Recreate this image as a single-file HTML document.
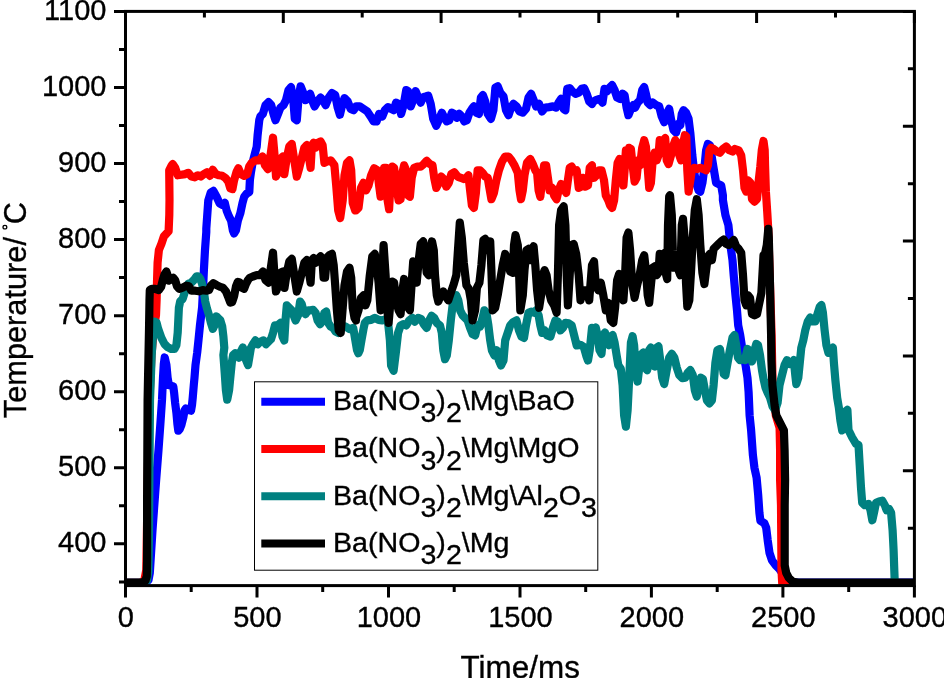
<!DOCTYPE html>
<html><head><meta charset="utf-8"><title>chart</title>
<style>html,body{margin:0;padding:0;background:#fff;}svg{display:block;}text{font-family:"Liberation Sans",sans-serif;fill:#000;stroke:#000;stroke-width:0.35px;}svg{will-change:transform;}</style>
</head><body>
<svg width="944" height="678" viewBox="0 0 944 678">
<rect x="0" y="0" width="944" height="678" fill="#fff"/>
<defs><clipPath id="pc"><rect x="125.5" y="11.4" width="788.9" height="575.7"/></clipPath></defs>
<g clip-path="url(#pc)" fill="none" stroke-linejoin="round" stroke-linecap="round" stroke-width="8.2">
<polyline stroke="#0000ff" points="125.5,582.8 145.5,582.8 148.5,580.0 149.8,573.0 150.3,565.0 152.5,530.0 156.0,482.0 158.5,450.0 160.3,425.0 162.0,400.0 163.0,377.6 163.8,364.0 164.7,357.5 166.4,365.0 167.6,377.6 168.9,385.1 171.4,385.8 173.3,386.4 174.1,392.7 175.1,402.7 176.4,412.7 177.4,424.0 178.3,430.7 179.8,429.0 181.4,425.0 183.3,417.6 184.5,410.5 185.8,408.5 188.9,410.0 191.0,410.7 192.0,405.0 192.7,398.0 193.8,385.0 194.5,377.6 195.5,365.0 197.2,352.5 198.5,340.0 200.0,325.0 202.1,307.6 203.0,290.0 203.9,270.0 205.0,250.0 206.3,232.0 206.3,228.5 208.3,200.4 210.8,192.4 213.3,190.9 216.6,196.7 219.6,203.4 222.3,204.9 224.8,202.9 226.6,210.4 229.1,216.7 231.1,220.5 232.9,230.5 234.1,233.5 235.9,230.5 237.9,220.5 240.3,213.3 242.5,203.0 244.2,196.7 246.5,193.8 249.3,192.0 249.9,180.0 251.0,172.0 252.5,163.3 254.0,157.0 256.7,146.7 257.6,135.2 259.3,120.0 260.4,116.4 262.9,113.9 265.5,105.1 268.5,102.1 271.2,105.1 273.5,113.9 275.5,120.2 278.0,113.9 280.5,107.6 283.5,105.1 286.0,100.1 288.5,90.1 291.0,87.1 293.1,97.6 294.8,118.9 296.8,120.2 298.6,97.6 300.6,86.3 303.1,92.6 305.6,100.1 308.1,96.4 310.1,93.8 312.6,101.4 314.6,106.4 317.6,101.4 320.6,97.6 323.6,101.4 325.6,105.1 328.7,97.6 331.9,93.1 335.2,95.1 337.7,107.6 339.9,114.7 342.2,105.1 344.5,98.1 347.7,101.4 350.7,108.9 353.7,110.2 356.0,106.4 356.0,106.4 359.8,106.4 363.5,108.9 367.3,111.4 370.6,116.4 373.6,121.4 376.6,121.4 379.1,113.9 382.3,116.4 384.8,110.2 388.1,107.1 391.1,108.9 393.6,110.2 396.1,102.6 398.6,103.9 401.1,113.9 403.6,105.1 406.2,90.1 408.2,91.3 410.7,106.4 413.2,100.1 415.7,91.3 418.2,97.6 420.7,102.6 423.2,97.1 425.7,96.4 428.2,95.6 430.7,103.9 433.2,118.9 436.3,125.7 439.3,118.9 441.8,112.7 444.3,117.7 446.8,121.4 449.3,120.2 451.8,112.7 454.3,113.9 456.8,117.7 459.3,113.9 461.8,116.4 464.3,121.4 466.9,120.2 469.4,112.7 471.9,108.9 473.9,106.4 476.4,112.7 478.9,113.9 480.9,97.6 482.9,95.1 485.2,101.4 487.7,113.9 490.9,118.9 493.4,110.2 495.4,87.6 497.7,86.3 500.2,92.6 503.5,96.4 506.0,110.2 508.5,115.2 511.0,107.6 513.5,103.9 516.5,106.4 519.5,111.4 522.8,112.7 526.0,108.9 528.5,97.6 531.1,93.8 533.6,100.1 536.1,106.4 539.1,103.9 542.1,111.4 545.4,107.6 549.1,107.1 552.9,106.4 556.1,107.6 558.6,102.6 561.1,98.9 563.7,108.9 565.4,110.2 567.2,88.8 569.7,88.1 572.2,91.3 575.5,93.8 578.7,92.6 581.7,88.8 584.2,88.1 586.7,93.8 589.2,101.4 592.0,103.9 592.0,102.6 595.8,100.1 599.5,98.9 602.5,102.6 604.5,88.8 607.0,91.3 609.6,87.6 612.1,85.1 614.6,90.1 617.1,97.6 620.1,98.9 622.6,93.8 624.6,95.1 626.6,107.6 628.4,115.2 630.9,108.9 633.4,105.1 635.1,107.6 637.6,102.6 640.1,100.1 642.2,90.1 644.2,87.1 645.9,93.8 647.7,102.6 650.2,105.1 652.7,102.6 656.0,105.1 659.2,106.4 661.7,116.4 664.2,122.2 666.7,113.9 669.2,108.9 671.2,120.2 673.5,130.2 676.0,132.7 678.5,123.9 680.3,125.2 681.8,113.9 683.5,110.2 686.0,112.7 688.6,118.9 690.3,132.7 692.3,155.3 694.3,172.8 696.1,182.9 698.6,190.4 700.3,191.6 702.4,182.9 704.4,167.8 706.1,150.3 707.9,144.0 709.9,145.2 711.9,157.8 714.4,172.8 716.1,182.9 718.6,184.1 721.2,185.4 722.9,195.4 722.9,200.0 725.4,215.0 728.4,225.1 730.4,245.1 732.5,260.2 733.7,275.2 735.5,295.3 737.0,310.3 738.2,325.4 740.2,335.0 742.8,352.0 745.5,365.0 747.5,378.0 748.6,392.0 749.6,415.3 751.1,430.0 752.9,455.1 754.4,467.6 756.6,477.6 758.2,495.2 759.4,512.7 760.4,520.8 764.4,523.3 766.2,527.8 767.7,540.3 769.5,552.9 772.0,560.4 775.7,565.4 779.5,569.2 783.2,574.2 788.3,580.4 793.3,582.5 944.0,582.5"/>
<polyline stroke="#ff0000" points="125.5,582.8 141.0,582.8 144.5,579.5 146.3,570.0 147.1,520.0 148.0,465.0 149.5,400.0 151.5,355.0 154.0,327.0 156.0,315.0 156.6,300.0 157.0,282.0 157.6,262.7 158.9,250.0 161.4,243.9 163.9,236.4 168.6,231.3 169.3,215.0 169.5,200.0 169.2,170.3 171.7,165.3 172.7,164.1 175.2,167.8 177.7,175.3 181.4,174.8 185.2,174.1 188.2,172.8 191.5,176.6 194.7,177.3 197.8,175.3 200.8,176.6 204.0,174.1 207.0,172.3 209.8,175.8 212.8,169.8 215.8,174.1 219.1,175.3 222.3,175.8 225.3,177.8 228.3,181.6 230.3,188.4 232.4,189.1 234.1,180.3 236.6,171.6 238.4,168.3 240.9,174.1 244.1,175.8 247.2,174.1 249.2,166.6 251.7,162.8 255.4,160.3 259.2,160.3 262.4,156.5 265.0,165.3 268.0,169.1 270.5,155.3 273.0,137.7 275.0,160.3 276.0,176.6 278.5,170.3 280.5,159.0 283.0,156.5 284.3,174.1 286.8,157.8 289.3,146.5 291.8,144.0 294.3,160.3 296.8,176.6 299.3,167.8 301.8,157.8 304.3,147.8 306.8,145.2 309.4,160.3 310.6,167.8 311.9,145.2 313.6,142.7 315.6,147.8 318.1,142.7 320.6,141.5 322.6,145.2 324.4,162.8 326.9,161.6 330.7,160.3 334.4,165.3 336.2,185.4 338.2,210.4 340.2,218.0 342.7,200.4 344.5,175.3 347.0,162.8 349.5,160.3 351.2,170.3 352.7,202.9 355.2,210.4 356.0,210.4 358.5,207.9 361.0,187.9 363.5,182.9 366.0,190.4 368.5,185.4 371.1,175.3 374.1,168.3 377.3,170.3 379.1,185.4 380.6,196.7 382.3,180.3 384.1,167.8 386.1,167.8 387.6,200.4 389.1,209.2 390.6,180.3 392.4,166.6 394.1,167.8 396.1,185.4 398.6,200.4 400.6,199.2 402.4,172.8 404.1,165.3 406.2,170.3 408.2,195.4 409.9,196.7 411.7,177.8 414.2,167.8 417.4,166.6 420.7,166.6 423.7,164.1 426.7,160.8 430.0,164.1 432.5,165.3 434.2,177.8 436.3,187.9 438.8,182.9 441.3,176.6 443.8,179.1 446.3,186.6 448.8,182.9 451.3,174.1 454.3,172.3 457.6,176.6 460.8,177.8 463.8,179.1 466.4,177.8 468.4,175.3 470.1,190.4 471.9,205.4 473.9,207.9 475.9,192.9 477.6,170.3 480.1,170.3 482.6,172.8 485.2,176.6 487.7,177.8 489.4,187.9 491.4,199.2 493.9,192.9 496.4,180.3 498.9,170.3 502.0,161.6 505.2,156.5 508.5,156.5 511.5,160.3 514.5,165.3 517.8,172.8 519.5,190.4 521.0,199.2 522.8,190.4 524.5,175.3 527.0,162.8 530.3,159.0 532.8,164.1 535.3,170.3 537.1,172.8 538.6,190.4 540.3,196.7 542.1,180.3 544.1,165.3 546.1,165.3 547.9,177.8 549.6,190.4 552.1,187.9 554.1,195.4 556.6,199.2 558.6,190.4 561.1,184.1 563.7,187.9 566.2,192.9 567.9,180.3 569.7,167.8 571.7,166.6 574.2,171.6 576.7,170.3 578.7,187.9 581.2,186.6 583.0,177.8 585.5,186.6 588.0,185.4 589.7,167.8 592.0,165.3 592.0,167.8 594.0,177.8 596.5,175.3 599.0,170.3 601.5,170.3 604.0,180.3 605.8,195.4 608.3,200.4 610.1,205.4 612.1,207.9 614.1,200.4 615.8,180.3 617.6,162.8 619.6,159.0 621.6,170.3 623.4,185.4 624.6,170.3 625.9,150.3 627.6,155.3 629.1,147.8 630.9,149.0 632.6,165.3 634.6,181.6 636.6,177.8 638.4,160.3 640.1,165.3 642.2,147.8 644.2,140.2 645.9,146.5 647.7,167.8 649.2,187.9 650.9,182.9 652.7,160.3 654.7,152.8 656.7,160.3 658.5,155.3 659.7,140.2 661.7,142.7 663.5,140.2 665.2,138.2 666.7,160.3 668.5,164.1 671.0,155.3 673.5,145.2 675.3,140.2 677.3,142.7 679.3,155.3 681.0,160.3 682.8,145.2 684.8,135.2 686.3,136.5 687.3,170.3 688.6,191.6 690.3,180.3 691.8,170.3 694.3,167.8 697.3,169.1 700.3,167.8 703.6,169.1 706.1,170.3 707.9,165.3 709.4,150.3 711.1,147.8 713.6,149.0 716.9,151.5 719.9,152.8 722.9,149.0 726.2,146.5 729.4,150.3 732.5,151.5 735.0,149.0 738.7,150.3 741.2,155.3 743.0,170.3 744.5,187.9 746.2,191.6 748.0,180.3 750.5,182.9 752.0,199.2 754.5,201.7 757.0,199.2 758.8,180.0 760.3,166.7 761.8,150.0 763.5,141.0 764.7,150.0 765.1,166.7 765.9,191.7 767.3,213.0 768.3,230.0 771.6,335.1 772.6,385.2 775.8,415.3 779.6,427.9 780.1,450.4 780.1,480.0 781.0,505.2 781.5,570.4 782.2,583.2 944.0,583.2"/>
<polyline stroke="#008080" points="125.5,582.8 143.0,582.8 147.0,580.5 148.3,572.0 148.9,540.0 149.5,465.0 150.0,400.0 151.7,355.0 153.2,332.0 154.3,321.5 156.6,322.7 158.2,328.9 161.3,337.7 164.5,344.0 167.6,347.1 171.4,349.0 174.5,349.0 176.4,345.2 177.7,332.7 178.3,320.2 178.9,307.6 180.2,301.4 182.7,298.8 183.9,295.1 185.8,288.8 188.3,283.8 191.4,282.5 193.9,280.0 196.5,276.3 198.3,276.3 200.2,278.8 202.1,283.8 204.0,292.6 205.2,301.4 207.1,308.9 209.0,315.1 210.9,322.7 212.8,328.9 214.6,325.2 216.5,316.4 218.4,318.3 220.3,320.2 222.2,326.4 223.4,336.5 224.3,347.7 223.4,355.1 224.7,372.6 225.9,390.2 227.2,399.6 229.1,390.2 230.3,377.6 231.8,362.6 233.1,355.1 235.3,353.2 237.2,353.8 239.1,357.6 241.0,351.3 242.8,347.5 244.7,351.3 246.0,360.1 248.0,365.1 249.2,358.0 250.9,347.9 252.9,344.2 255.4,340.4 257.9,344.2 260.4,341.7 263.5,340.4 266.0,344.2 268.5,341.7 271.0,339.2 273.0,332.9 275.0,325.4 277.5,325.4 280.5,322.9 282.5,336.6 284.3,340.4 285.5,320.4 286.8,305.3 289.3,307.8 291.8,310.3 293.6,315.3 295.6,320.4 298.1,315.3 300.1,301.6 301.8,304.1 303.6,311.6 305.6,314.1 308.1,310.3 310.6,310.3 313.1,309.8 315.6,312.8 317.6,320.4 320.1,324.1 322.6,320.4 324.4,312.8 326.2,311.6 328.2,322.9 330.7,326.6 333.2,327.9 335.7,331.6 338.2,332.9 342.0,325.4 345.7,326.6 349.5,329.1 353.2,327.9 354.3,334.0 355.3,340.0 357.0,350.0 358.3,353.3 359.8,350.0 361.5,340.0 363.5,329.0 364.8,322.9 367.3,320.4 371.1,319.9 374.8,317.9 378.6,319.9 382.3,320.4 386.1,319.1 388.1,322.9 389.9,340.4 391.1,365.5 393.6,370.7 396.1,350.4 398.1,332.9 400.6,325.4 403.6,324.1 406.2,325.4 409.2,320.4 412.4,317.9 414.9,321.6 418.2,317.9 421.2,319.1 423.7,324.1 426.7,327.9 429.2,320.4 431.7,315.8 434.2,317.9 436.8,322.9 440.0,325.4 441.8,332.9 443.3,350.4 445.0,359.2 446.8,355.5 448.8,340.4 450.8,320.4 452.6,305.3 454.3,296.5 456.3,295.3 458.3,300.3 460.1,310.3 462.6,315.3 465.1,317.9 467.6,320.4 470.1,327.9 472.6,334.1 475.1,335.4 477.6,325.4 480.1,326.6 482.6,317.9 484.4,310.3 486.4,312.8 488.4,325.4 490.2,340.4 491.9,350.4 494.4,355.5 496.9,350.4 498.9,360.5 501.0,365.5 503.5,360.5 505.2,340.4 507.7,332.9 510.2,325.4 512.8,322.4 516.5,320.4 519.0,330.4 521.5,336.6 524.0,337.9 526.0,325.4 528.5,312.8 531.1,311.6 534.1,312.8 536.1,310.3 538.6,315.3 540.3,325.4 542.1,332.9 544.6,330.4 547.1,335.4 550.4,336.6 552.9,327.9 555.4,320.4 557.9,321.6 560.4,330.4 562.9,327.9 565.4,322.9 568.7,323.4 571.7,325.4 574.2,335.4 576.7,345.4 580.5,344.9 583.7,346.7 586.2,355.5 588.0,360.5 589.7,350.4 592.0,327.9 592.0,332.6 594.0,330.1 595.8,327.6 597.5,335.1 599.5,350.1 601.5,353.9 603.3,335.1 605.0,332.6 607.0,342.6 609.0,345.1 610.8,336.3 612.6,335.1 614.6,342.6 616.6,355.1 618.3,365.2 620.8,368.9 622.6,385.2 624.1,415.3 625.9,426.6 627.6,410.3 629.1,380.2 630.9,342.6 632.6,336.3 634.1,345.1 635.9,372.7 637.6,381.5 639.6,365.2 641.7,353.9 643.4,352.6 645.2,367.7 647.2,370.2 649.2,350.1 650.9,347.6 652.7,365.2 654.7,366.4 656.7,347.6 658.5,346.4 660.2,360.1 662.2,377.7 664.2,384.0 666.7,370.2 669.2,357.6 671.8,353.9 674.3,357.6 676.8,367.7 679.3,375.2 682.3,378.2 685.3,377.7 687.8,372.7 690.3,370.2 692.8,375.2 694.8,390.2 696.8,396.5 698.8,385.2 700.9,377.7 702.9,378.9 704.9,390.2 706.9,400.3 709.4,403.3 711.9,400.3 713.6,385.2 715.4,362.6 717.4,350.1 719.9,348.9 721.9,360.1 723.7,373.9 725.4,375.2 727.4,363.9 729.9,350.1 732.5,337.6 734.5,335.1 736.2,345.1 738.0,357.6 740.0,360.1 742.5,358.9 745.0,360.1 747.5,348.9 749.5,351.4 752.0,361.4 754.5,350.1 756.3,343.9 758.0,345.1 760.0,355.1 762.0,370.2 763.8,380.2 765.5,387.7 767.6,392.7 770.1,397.8 772.6,406.5 775.1,410.3 777.6,402.8 779.5,385.3 782.0,375.3 784.5,365.2 787.0,360.2 789.5,364.0 792.0,362.7 793.8,360.2 795.3,375.3 796.3,384.1 798.3,377.8 799.8,362.7 801.3,347.7 803.3,340.2 805.3,330.1 807.8,321.4 810.3,317.6 812.8,321.4 815.3,321.4 817.1,315.1 819.6,307.1 821.4,305.1 822.9,312.6 824.6,330.1 826.4,345.2 828.4,352.7 830.9,350.2 832.9,347.7 833.9,362.7 835.4,380.3 837.2,397.9 838.9,407.9 840.4,420.4 842.2,430.4 843.9,422.5 845.9,411.2 847.4,409.9 848.5,430.0 852.2,437.5 856.0,443.8 858.5,445.0 859.7,465.1 861.0,487.7 862.2,502.7 864.8,505.2 868.5,504.0 870.5,510.2 872.3,520.3 874.0,512.7 876.0,502.7 879.0,501.5 882.3,500.7 884.8,505.2 886.6,510.2 889.1,509.0 891.1,512.7 892.6,530.3 893.6,550.4 894.3,570.4 894.8,583.5 898.6,583.5"/>
<polyline stroke="#000000" points="125.5,582.5 142.5,582.5 145.5,580.5 146.8,576.0 147.1,560.0 147.1,500.0 147.6,400.0 149.0,330.0 149.5,300.0 149.8,290.1 151.9,288.8 155.1,288.8 158.8,290.1 161.1,286.9 162.8,280.0 164.5,274.4 166.4,271.5 167.6,275.0 168.9,280.7 170.8,279.4 173.3,277.8 175.1,280.0 177.0,286.3 179.2,288.8 182.7,287.6 186.4,285.7 188.9,286.3 191.4,290.7 195.2,290.7 199.0,291.3 202.7,290.1 206.5,290.7 209.0,290.1 210.9,285.7 213.4,283.2 216.5,285.1 220.3,286.9 222.8,287.6 225.9,291.3 228.4,297.6 230.3,302.6 232.2,302.0 234.1,296.3 236.0,286.3 237.8,281.9 239.7,282.5 241.6,287.6 244.1,288.8 246.0,283.8 248.0,280.0 249.9,277.7 252.9,276.5 256.7,275.2 259.9,275.2 262.9,271.5 265.5,280.2 268.5,282.7 270.5,270.2 273.0,252.7 274.5,275.2 276.0,291.5 278.5,285.2 280.5,272.7 283.0,271.5 284.5,287.8 286.8,272.7 289.3,261.4 291.8,258.9 294.3,275.2 296.8,291.5 299.3,282.7 301.8,272.7 304.3,262.7 306.8,260.2 309.4,275.2 310.6,282.7 311.9,260.2 313.6,258.2 315.6,262.7 318.1,258.9 320.6,256.4 322.6,262.7 323.6,277.7 325.1,277.7 326.9,257.7 329.4,255.2 331.9,253.9 333.7,265.2 335.2,285.2 336.9,310.3 338.7,330.4 340.7,332.9 342.7,307.8 344.5,285.2 347.0,271.5 349.5,267.7 351.2,277.7 352.7,307.8 354.5,317.9 356.0,320.4 356.0,317.9 358.5,310.3 361.0,297.8 363.5,295.3 365.5,305.3 367.3,300.3 369.8,275.2 372.3,256.4 374.8,253.9 376.6,265.2 378.6,282.7 380.6,310.3 382.3,275.2 383.6,245.1 385.6,275.2 387.4,310.3 388.6,322.9 390.6,300.3 392.4,281.5 394.1,282.7 396.1,300.3 398.6,310.3 400.6,314.1 402.4,290.3 404.1,279.0 406.2,285.2 408.2,307.8 409.9,310.3 411.7,282.7 413.2,261.4 414.9,265.2 416.7,282.7 418.7,260.2 420.7,243.9 423.2,241.4 425.0,255.2 426.7,272.7 428.7,275.2 430.2,250.2 432.0,241.4 433.8,250.2 435.0,275.2 436.8,295.3 438.3,301.6 440.8,295.3 443.3,291.5 445.8,296.5 448.3,300.3 450.8,292.8 453.8,284.0 456.3,275.2 458.3,245.1 459.8,222.6 461.8,237.6 463.8,262.7 466.4,285.2 468.9,289.0 470.9,300.3 472.6,320.4 475.1,310.3 476.9,287.8 479.4,282.7 481.4,265.2 483.4,240.1 485.2,238.9 486.9,250.2 488.4,247.6 490.2,241.4 491.4,270.2 492.7,310.3 495.2,307.8 497.7,295.3 500.2,280.2 502.7,265.2 505.2,253.9 507.7,260.2 510.2,271.5 512.8,272.7 514.0,245.1 515.5,235.1 517.8,245.1 519.0,270.2 520.3,310.3 522.8,295.3 524.5,270.2 526.5,250.2 528.5,248.9 530.3,260.2 531.6,250.2 533.6,246.4 535.3,265.2 537.1,290.3 539.1,307.8 541.1,295.3 542.8,275.2 544.6,270.2 546.6,275.2 548.6,290.3 551.1,300.3 554.1,305.3 556.6,312.8 557.9,275.2 559.1,225.1 561.1,210.0 563.7,206.3 565.4,225.1 566.7,275.2 567.9,305.3 569.7,275.2 571.2,245.1 573.7,243.9 576.2,253.9 578.7,275.2 580.5,300.3 583.0,290.3 586.7,290.3 589.2,300.3 592.0,265.2 592.0,265.2 594.0,261.4 595.8,285.2 598.3,290.3 600.8,282.7 603.3,295.3 605.8,310.3 608.3,302.8 610.8,320.4 613.3,322.9 615.1,307.8 617.1,280.2 619.1,274.0 620.8,285.2 623.4,300.3 625.1,275.2 626.6,237.6 628.4,232.6 630.1,250.2 632.1,282.7 634.6,297.8 637.1,285.2 639.6,275.2 642.2,260.2 644.2,255.2 645.9,270.2 647.7,295.3 649.2,302.8 650.9,285.2 652.7,267.7 654.7,266.4 656.7,275.2 658.5,272.7 659.7,253.9 661.7,257.7 663.5,253.9 665.2,252.7 666.2,275.2 667.2,279.0 668.0,225.1 669.2,196.5 670.0,195.2 671.8,215.0 672.8,250.2 673.8,267.7 676.0,265.2 678.5,270.2 680.3,275.2 681.8,225.1 683.0,218.8 684.8,240.1 686.0,282.7 687.3,306.6 689.3,300.3 691.1,270.2 692.8,237.6 694.8,210.0 696.8,199.2 698.6,215.0 700.3,245.1 702.4,272.7 704.4,284.0 706.1,270.2 707.9,256.4 709.9,253.9 711.9,260.2 713.6,248.9 716.1,246.4 718.6,243.9 721.2,241.4 723.7,239.6 726.2,243.9 728.7,245.1 731.2,242.6 733.7,240.1 736.2,246.4 738.7,248.9 741.2,252.7 743.0,275.2 744.5,300.3 746.2,305.3 748.0,295.3 750.0,297.8 752.0,314.1 754.5,315.3 757.0,314.1 761.4,292.8 763.1,262.7 763.5,255.2 765.0,253.9 766.8,245.1 768.3,228.8 768.8,237.6 769.8,275.2 770.5,310.3 771.1,335.1 771.4,360.1 772.4,385.2 774.6,405.3 776.3,415.3 780.1,422.8 783.9,430.4 784.6,450.4 785.1,480.0 784.7,505.2 784.7,565.4 786.2,572.9 788.8,577.9 792.8,581.7 798.3,582.5 944.0,582.5"/>
</g>
<g stroke="#000" stroke-width="3" fill="none" stroke-linecap="butt">
<rect x="125.5" y="11.4" width="788.9" height="574.2"/>
<path d="M125.5 543.8H114.0M125.5 467.8H114.0M125.5 391.7H114.0M125.5 315.7H114.0M125.5 239.6H114.0M125.5 163.5H114.0M125.5 87.5H114.0M125.5 11.4H114.0M125.5 581.9H119.0M125.5 505.8H119.0M125.5 429.8H119.0M125.5 353.7H119.0M125.5 277.6H119.0M125.5 201.6H119.0M125.5 125.5H119.0M125.5 49.4H119.0M125.5 585.6V597.6M257.0 585.6V597.6M388.5 585.6V597.6M520.0 585.6V597.6M651.4 585.6V597.6M782.9 585.6V597.6M914.4 585.6V597.6M191.2 585.6V592.1M322.7 585.6V592.1M454.2 585.6V592.1M585.7 585.6V592.1M717.2 585.6V592.1M848.7 585.6V592.1M125.5 11.4V22.9M204.4 11.4V17.4M283.3 11.4V22.9M362.2 11.4V17.4M441.1 11.4V22.9M520.0 11.4V17.4M598.8 11.4V22.9M677.7 11.4V17.4M756.6 11.4V22.9M835.5 11.4V17.4M914.4 11.4V22.9M914.4 11.4H902.9M914.4 68.8H907.9M914.4 126.2H902.9M914.4 183.7H907.9M914.4 241.1H902.9M914.4 298.5H907.9M914.4 355.9H902.9M914.4 413.3H907.9M914.4 470.8H902.9M914.4 528.2H907.9M914.4 585.6H902.9"/>
</g>
<g font-size="29">
<text transform="translate(106.4,552.3) scale(1.0,1)" text-anchor="end">400</text>
<text transform="translate(106.4,476.3) scale(1.0,1)" text-anchor="end">500</text>
<text transform="translate(106.4,400.2) scale(1.0,1)" text-anchor="end">600</text>
<text transform="translate(106.4,324.2) scale(1.0,1)" text-anchor="end">700</text>
<text transform="translate(106.4,248.1) scale(1.0,1)" text-anchor="end">800</text>
<text transform="translate(106.4,172.0) scale(1.0,1)" text-anchor="end">900</text>
<text transform="translate(106.4,96.0) scale(1.0,1)" text-anchor="end">1000</text>
<text transform="translate(106.4,19.9) scale(1.0,1)" text-anchor="end">1100</text>
<text transform="translate(125.9,627.0) scale(1.0,1)" text-anchor="middle">0</text>
<text transform="translate(257.4,627.0) scale(1.0,1)" text-anchor="middle">500</text>
<text transform="translate(388.9,627.0) scale(1.0,1)" text-anchor="middle">1000</text>
<text transform="translate(520.4,627.0) scale(1.0,1)" text-anchor="middle">1500</text>
<text transform="translate(651.8,627.0) scale(1.0,1)" text-anchor="middle">2000</text>
<text transform="translate(783.3,627.0) scale(1.0,1)" text-anchor="middle">2500</text>
<text transform="translate(914.8,627.0) scale(1.0,1)" text-anchor="middle">3000</text>
</g>
<text x="460.6" y="678.0" font-size="31" textLength="119.3" lengthAdjust="spacingAndGlyphs" id="xt">Time/ms</text>
<g transform="translate(26.2,418.2) rotate(-90) scale(0.961,1)"><text x="0" y="0" font-size="32" id="yt">Temperature/</text><text x="201.9" y="0" font-size="32">C</text><circle cx="198.8" cy="-21.3" r="1.9" fill="none" stroke="#000" stroke-width="1.3"/></g>
<rect x="254.5" y="381.8" width="343.3" height="188.4" fill="#fff" stroke="#000" stroke-width="1"/>
<line x1="261.3" x2="325" y1="401.8" y2="401.8" stroke="#0000ff" stroke-width="8"/>
<text transform="translate(333,410.1) scale(1.06,1)" font-size="27" class="lg">Ba(NO<tspan dy="12.2">3</tspan><tspan dy="-12.2">)</tspan><tspan dy="12.2">2</tspan><tspan dy="-12.2">\Mg\BaO</tspan></text>
<line x1="261.3" x2="325" y1="449.1" y2="449.1" stroke="#ff0000" stroke-width="8"/>
<text transform="translate(333,457.4) scale(1.06,1)" font-size="27" class="lg">Ba(NO<tspan dy="12.2">3</tspan><tspan dy="-12.2">)</tspan><tspan dy="12.2">2</tspan><tspan dy="-12.2">\Mg\MgO</tspan></text>
<line x1="261.3" x2="325" y1="496.3" y2="496.3" stroke="#008080" stroke-width="8"/>
<text transform="translate(333,504.6) scale(1.06,1)" font-size="27" class="lg">Ba(NO<tspan dy="12.2">3</tspan><tspan dy="-12.2">)</tspan><tspan dy="12.2">2</tspan><tspan dy="-12.2">\Mg\Al<tspan dy="12.2">2</tspan><tspan dy="-12.2">O</tspan><tspan dy="12.2">3</tspan></tspan></text>
<line x1="261.3" x2="325" y1="543.5" y2="543.5" stroke="#000000" stroke-width="8"/>
<text transform="translate(333,551.8) scale(1.06,1)" font-size="27" class="lg">Ba(NO<tspan dy="12.2">3</tspan><tspan dy="-12.2">)</tspan><tspan dy="12.2">2</tspan><tspan dy="-12.2">\Mg</tspan></text>
</svg>
</body></html>
